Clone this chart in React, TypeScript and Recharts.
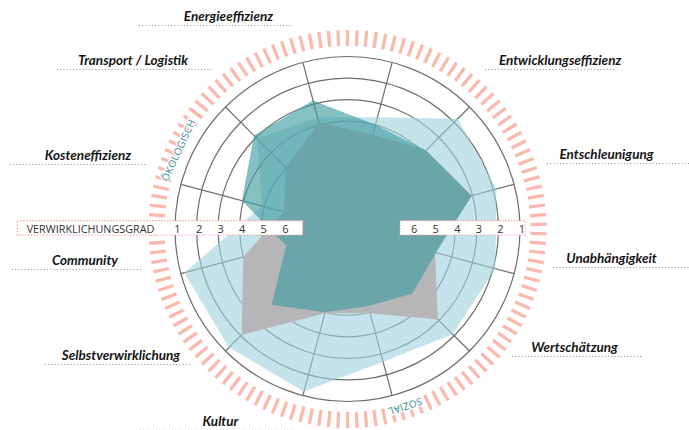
import React from "react";
import { RadarChart, Radar, PolarGrid, PolarAngleAxis, PolarRadiusAxis } from "recharts";

// 12 spokes, clockwise from 15° past the top; two spokes carry no label
const axes = [
  "",
  "Entwicklungseffizienz",
  "Entschleunigung",
  "Unabhängigkeit",
  "Wertschätzung",
  "",
  "Kultur",
  "Selbstverwirklichung",
  "Community",
  "Kosteneffizienz",
  "Transport / Logistik",
  "Energieeffizienz",
];

// Verwirklichungsgrad (1 = outer ring, 6 = inner ring)
const hellblau = [3.64, 1.77, 1.85, 1.9, 2.1, 2.63, 1.2, 1.23, 1.16, 4.9, 3.08, 3.64];
const grau = [4.47, 3.85, 3.04, 4.8, 3.07, 4.96, 4.95, 2.05, 4.0, 5.94, 4.97, 3.88];
const petrol = [4.0, 3.85, 3.04, 4.75, 4.76, 5.3, 5.0, 4.03, 6.05, 3.93, 2.87, 2.83];

const gradTicks = [1, 2, 3, 4, 5, 6];

const data = axes.map((name, i) => ({
  id: i,
  name,
  hellblau: hellblau[i],
  grau: grau[i],
  petrol: petrol[i],
}));

const CX = 347.5;
const CY = 229;
const R = 172.5;
const LABEL_R = 180.5;
const SALMON = "#fbb9ad";
const HAND = "Lato, 'Noto Sans', sans-serif";

// label offset from the spoke end: [dx, dy, dots from, dots to]
const LABEL_LAYOUT: Record<number, [number, number, number, number]> = {
  1: [85, -36.4, -75, 55],
  2: [84.7, -23.3, -59.5, 90],
  3: [89.7, -12.7, -58.5, 85],
  4: [99.4, -4.6, -62.5, 67.5],
  6: [-80.3, 22.4, -80.5, 74.5],
  7: [-98.9, 3.4, -76, 71],
  8: [-88.2, -10.7, -73, 57],
  9: [-85.2, -22.3, -78, 59],
  10: [-86.9, -36.4, -76, 79],
  11: [-72.3, -33.6, -89.5, 64.5],
};

function Ring() {
  const n = 130;
  const lines = [];
  for (let k = 0; k < n; k++) {
    const a = (k / n) * Math.PI * 2;
    const s = Math.sin(a);
    const c = Math.cos(a);
    lines.push(
      <line
        key={k}
        x1={CX + 183 * s}
        y1={CY - 183 * c}
        x2={CX + 199 * s}
        y2={CY - 199 * c}
        stroke={SALMON}
        strokeWidth={3.3}
      />
    );
  }
  return <g>{lines}</g>;
}

function arcText(text: string, deg: number, r: number) {
  const a = (deg * Math.PI) / 180;
  const x = CX + r * Math.sin(a);
  const y = CY - r * Math.cos(a);
  return (
    <text
      x={x}
      y={y}
      transform={`rotate(${deg > 180 ? deg - 360 : deg} ${x} ${y})`}
      textAnchor="middle"
      dominantBaseline="central"
      fontFamily="'Open Sans', sans-serif"
      fontSize={10}
      fill="#2a8a8f"
      stroke="#fff"
      strokeWidth={2.5}
      paintOrder="stroke"
      letterSpacing={0.3}
    >
      {text}
    </text>
  );
}

function AngleTick(props: any) {
  const { payload, index } = props;
  const i = payload.value as number;
  const a = (-payload.coordinate * Math.PI) / 180;
  const bx = CX + LABEL_R * Math.cos(a);
  const by = CY + LABEL_R * Math.sin(a);
  const lay = LABEL_LAYOUT[i];
  return (
    <g>
      {index === 0 && (
        <>
          <Ring />
          {arcText("ÖKOLOGISCH", 295, 187)}
          {arcText("SOZIAL", 162, 187)}
        </>
      )}
      {lay && axes[i] && (
        <>
          <line
            x1={bx + lay[0] + lay[2]}
            x2={bx + lay[0] + lay[3]}
            y1={by + lay[1] + 4.5}
            y2={by + lay[1] + 4.5}
            stroke="#8a8a8a"
            strokeWidth={1}
            strokeDasharray="1 2.2"
          />
          <text
            x={bx + lay[0]}
            y={by + lay[1]}
            textAnchor="middle"
            fontFamily={HAND}
            fontStyle="italic"
            fontWeight={700}
            fontSize={13.5}
            fill="#151515"
          >
            {axes[i]}
          </text>
        </>
      )}
    </g>
  );
}

function RadiusTick(props: any) {
  const { payload, index } = props;
  const r = payload.coordinate as number;
  const txt = {
    fontFamily: "'Open Sans', sans-serif",
    fontSize: 11,
    fill: "#333",
    textAnchor: "middle" as const,
  };
  return (
    <g>
      {index === 0 && (
        <>
          <rect
            x={17.3}
            y={CY - 8.3}
            width={CX - 44.8 - 17.3}
            height={14.3}
            fill="#fff"
            stroke="#f4a196"
            strokeWidth={1.2}
            strokeDasharray="1.4 1.6"
          />
          <rect
            x={CX + 52.5}
            y={CY - 8.3}
            width={125}
            height={14.3}
            fill="#fff"
            stroke="#f4a196"
            strokeWidth={1.2}
            strokeDasharray="1.4 1.6"
          />
          <text
            x={26.7}
            y={CY + 4}
            fontFamily="'Open Sans', sans-serif"
            fontSize={10.8}
            fill="#333"
          >
            VERWIRKLICHUNGSGRAD
          </text>
        </>
      )}
      <text x={CX - r + 2.5} y={CY + 4} {...txt}>
        {payload.value}
      </text>
      <text x={CX + r + 2} y={CY + 4} {...txt}>
        {payload.value}
      </text>
    </g>
  );
}

export default function App() {
  return (
    <div style={{ position: "absolute", left: 0, top: 0, width: 689, height: 430, background: "#fff" }}>
      <RadarChart
        width={689}
        height={430}
        data={data}
        cx={CX}
        cy={CY}
        outerRadius={R}
        startAngle={75}
        endAngle={-285}
        margin={{ top: 0, right: 0, bottom: 0, left: 0 }}
      >
        <PolarGrid gridType="circle" stroke="#6e6e6e" strokeWidth={1.2} />
        <PolarAngleAxis
          dataKey="id"
          axisLine={false}
          tickLine={false}
          tick={AngleTick}
        />
        <Radar
          dataKey="hellblau"
          fill="#9fd0dd"
          fillOpacity={0.6}
          stroke="none"
          isAnimationActive={false}
        />
        <Radar
          dataKey="grau"
          fill="#b6b6b8"
          fillOpacity={1}
          stroke="none"
          isAnimationActive={false}
        />
        <Radar
          dataKey="petrol"
          fill="#3d9ba0"
          fillOpacity={0.63}
          stroke="none"
          isAnimationActive={false}
        />
        <PolarRadiusAxis
          angle={0}
          domain={[1, 8.5]}
          ticks={gradTicks}
          reversed
          axisLine={false}
          tick={RadiusTick}
        />
      </RadarChart>
    </div>
  );
}
